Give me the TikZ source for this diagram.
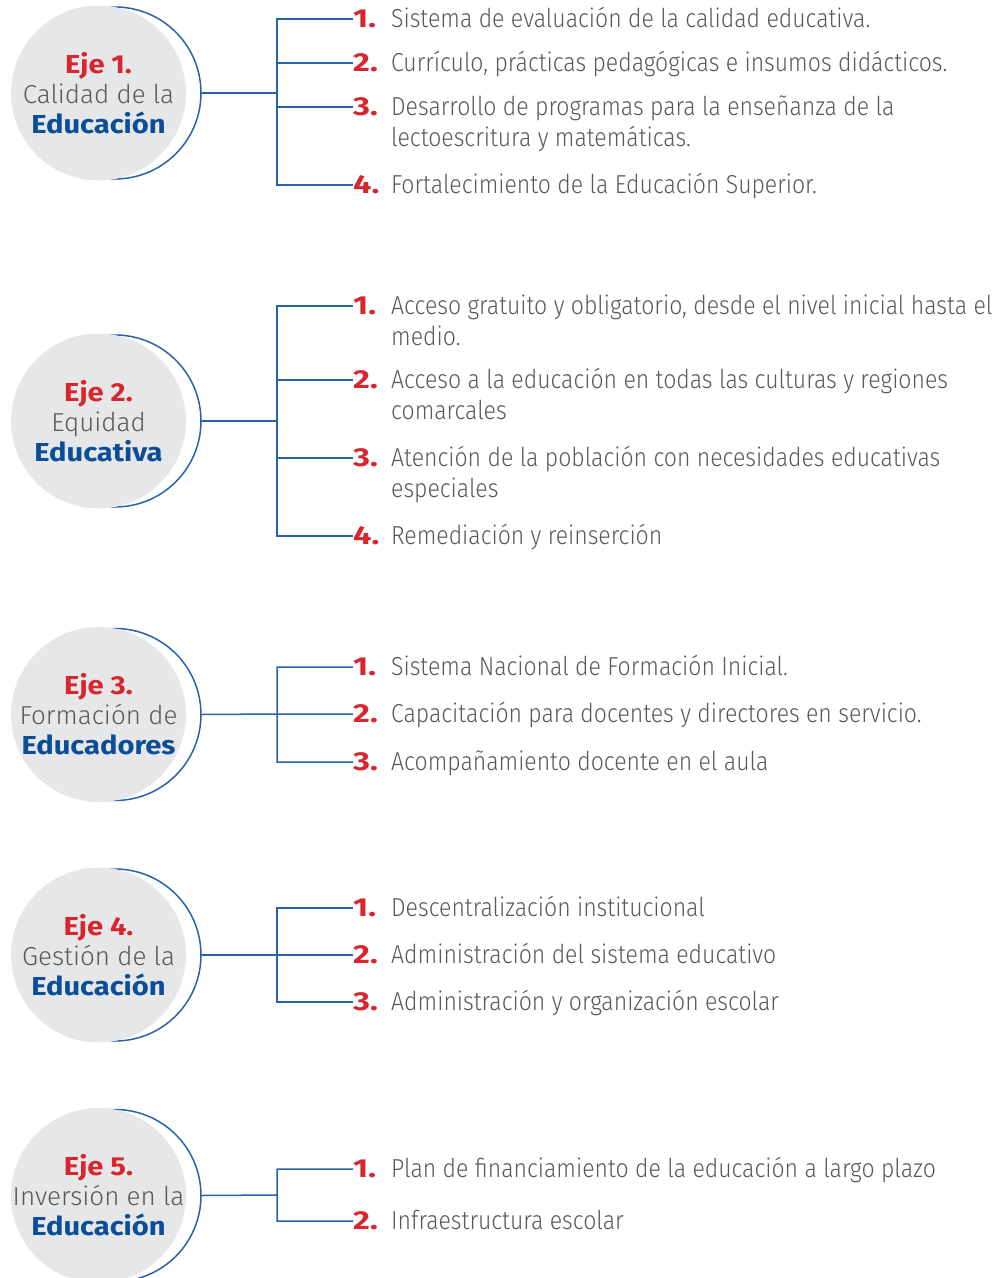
\documentclass[tikz,border=0pt]{standalone}
\usepackage{fontspec}
\setmainfont{Fira Sans Light}[BoldFont={Fira Sans Bold}]
\newfontfamily\itemfont{Fira Sans Light}[FakeStretch=0.885]
\newfontfamily\ejebold{Fira Sans Bold}[FakeStretch=1.12]
\newfontfamily\numfont{Fira Sans Bold}[FakeStretch=1.25]
\usetikzlibrary{backgrounds}
\pgfdeclarelayer{edgelayer}
\pgfdeclarelayer{nodelayer}
\pgfsetlayers{edgelayer,nodelayer,main}
\definecolor{ejered}{HTML}{D7262E}
\definecolor{ejeblue}{HTML}{0B4D96}
\definecolor{ejeline}{HTML}{2763A6}
\definecolor{ejetext}{HTML}{58595B}
\definecolor{ejegray}{HTML}{E6E7E8}
\tikzstyle{eje}=[circle,fill=ejegray,inner sep=-14pt,minimum size=175pt,align=center,text=ejetext,font={\fontsize{26}{30}\selectfont}]
\tikzstyle{num}=[inner sep=0pt,anchor=west,text=ejered,font={\numfont\fontsize{26}{31}\selectfont}]
\tikzstyle{item}=[inner sep=0pt,anchor=base west,text=ejetext,font={\itemfont\fontsize{26}{31}\selectfont}]
\tikzstyle{link}=[draw=ejeline,line width=1.5pt]
\newcommand{\ejeno}[1]{\textcolor{ejered}{\ejebold Eje #1.}}
\newcommand{\ejebf}[1]{\textcolor{ejeblue}{\ejebold #1}}
\newcommand{\lines}[1]{\begin{tabular}[t]{@{}l@{}}#1\end{tabular}}

\begin{document}
\begin{tikzpicture}[x=1pt,y=1pt]
	\useasboundingbox (0,0) rectangle (995,-1278);
	\begin{pgfonlayer}{nodelayer}
		% Eje 1
		\node [style=eje] (e1) at (98.5,-93) {\ejeno{1}\\Calidad de la\\\ejebf{Educación}};
		\node [style=num] (n11) at (353,-19) {1.};
		\node [style=num] (n12) at (353,-63) {2.};
		\node [style=num] (n13) at (353,-107) {3.};
		\node [style=num] (n14) at (353,-185) {4.};
		\node [style=item] (i11) at (n11.base -| 391,0) {Sistema de evaluación de la calidad educativa.};
		\node [style=item] (i12) at (n12.base -| 391,0) {Currículo, prácticas pedagógicas e insumos didácticos.};
		\node [style=item] (i13) at (n13.base -| 391,0) {\lines{Desarrollo de programas para la enseñanza de la\\lectoescritura y matemáticas.}};
		\node [style=item] (i14) at (n14.base -| 391,0) {Fortalecimiento de la Educación Superior.};
		% Eje 2
		\node [style=eje] (e2) at (98.5,-421) {\ejeno{2}\\Equidad\\\ejebf{Educativa}};
		\node [style=num] (n21) at (353,-306) {1.};
		\node [style=num] (n22) at (353,-380) {2.};
		\node [style=num] (n23) at (353,-458) {3.};
		\node [style=num] (n24) at (353,-536) {4.};
		\node [style=item] (i21) at (n21.base -| 391,0) {\lines{Acceso gratuito y obligatorio, desde el nivel inicial hasta el\\medio.}};
		\node [style=item] (i22) at (n22.base -| 391,0) {\lines{Acceso a la educación en todas las culturas y regiones\\comarcales}};
		\node [style=item] (i23) at (n23.base -| 391,0) {\lines{Atención de la población con necesidades educativas\\especiales}};
		\node [style=item] (i24) at (n24.base -| 391,0) {Remediación y reinserción};
		% Eje 3
		\node [style=eje] (e3) at (98.5,-714.5) {\ejeno{3}\\Formación de\\\ejebf{Educadores}};
		\node [style=num] (n31) at (353,-667) {1.};
		\node [style=num] (n32) at (353,-714) {2.};
		\node [style=num] (n33) at (353,-762) {3.};
		\node [style=item] (i31) at (n31.base -| 391,0) {Sistema Nacional de Formación Inicial.};
		\node [style=item] (i32) at (n32.base -| 391,0) {Capacitación para docentes y directores en servicio.};
		\node [style=item] (i33) at (n33.base -| 391,0) {Acompañamiento docente en el aula};
		% Eje 4
		\node [style=eje] (e4) at (98.5,-955) {\ejeno{4}\\Gestión de la\\\ejebf{Educación}};
		\node [style=num] (n41) at (353,-908) {1.};
		\node [style=num] (n42) at (353,-955) {2.};
		\node [style=num] (n43) at (353,-1002) {3.};
		\node [style=item] (i41) at (n41.base -| 391,0) {Descentralización institucional};
		\node [style=item] (i42) at (n42.base -| 391,0) {Administración del sistema educativo};
		\node [style=item] (i43) at (n43.base -| 391,0) {Administración y organización escolar};
		% Eje 5
		\node [style=eje] (e5) at (98.5,-1195.5) {\ejeno{5}\\Inversión en la\\\ejebf{Educación}};
		\node [style=num] (n51) at (353,-1169) {1.};
		\node [style=num] (n52) at (353,-1221) {2.};
		\node [style=item] (i51) at (n51.base -| 391,0) {Plan de financiamiento de la educación a largo plazo};
		\node [style=item] (i52) at (n52.base -| 391,0) {Infraestructura escolar};
	\end{pgfonlayer}
	\begin{pgfonlayer}{edgelayer}
		\draw[link] (e1.center) ++(16.5,0) ++(100:86) arc[start angle=100,end angle=-100,radius=86];
		\draw[link] (e2.center) ++(16.5,0) ++(100:86) arc[start angle=100,end angle=-100,radius=86];
		\draw[link] (e3.center) ++(16.5,0) ++(100:86) arc[start angle=100,end angle=-100,radius=86];
		\draw[link] (e4.center) ++(16.5,0) ++(100:86) arc[start angle=100,end angle=-100,radius=86];
		\draw[link] (e5.center) ++(16.5,0) ++(100:86) arc[start angle=100,end angle=-100,radius=86];
		\coordinate (r1) at ([xshift=102.5pt]e1.center);
		\coordinate (r2) at ([xshift=102.5pt]e2.center);
		\coordinate (r3) at ([xshift=102.5pt]e3.center);
		\coordinate (r4) at ([xshift=102.5pt]e4.center);
		\coordinate (r5) at ([xshift=102.5pt]e5.center);
		\coordinate (t1) at (277,-93);
		\coordinate (t2) at (277,-421);
		\coordinate (t3) at (277,-714);
		\coordinate (t4) at (277,-955);
		\coordinate (t5) at (277,-1195);
		\draw[link] (r1) -- (t1) (t1) |- (n11.west) (t1) |- (n12.west) (t1) |- (n13.west) (t1) |- (n14.west);
		\draw[link] (r2) -- (t2) (t2) |- (n21.west) (t2) |- (n22.west) (t2) |- (n23.west) (t2) |- (n24.west);
		\draw[link] (r3) -- (t3) (t3) |- (n31.west) (t3) |- (n32.west) (t3) |- (n33.west);
		\draw[link] (r4) -- (t4) (t4) |- (n41.west) (t4) |- (n42.west) (t4) |- (n43.west);
		\draw[link] (r5) -- (t5) (t5) |- (n51.west) (t5) |- (n52.west);
	\end{pgfonlayer}
\end{tikzpicture}
\end{document}
